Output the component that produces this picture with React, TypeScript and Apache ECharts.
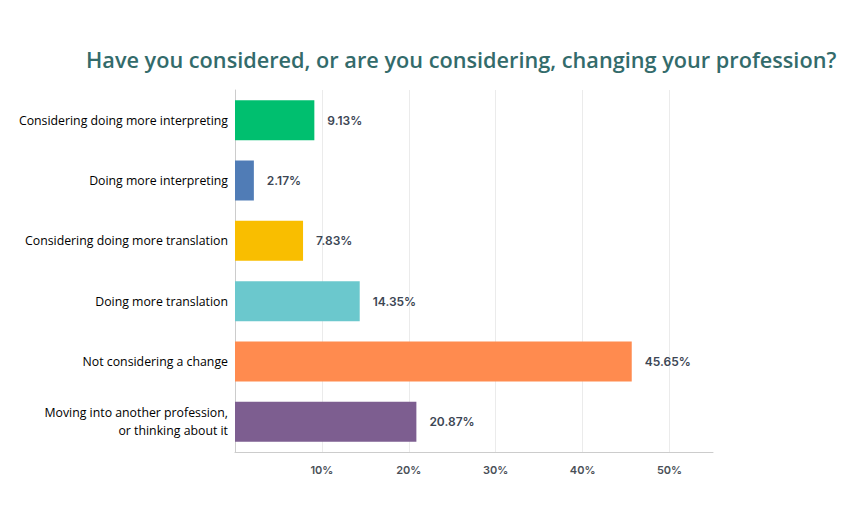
import React, { useEffect, useRef } from "react";
import * as echarts from "echarts";

const categories = [
  "Considering doing more interpreting",
  "Doing more interpreting",
  "Considering doing more translation",
  "Doing more translation",
  "Not considering a change",
  "Moving into another profession,\nor thinking about it",
];
const values = [9.13, 2.17, 7.83, 14.35, 45.65, 20.87];
const barColors = ["#00BF6F", "#507CB6", "#F9BE00", "#6BC8CD", "#FF8B4F", "#7D5E90"];
const titleText = "Have you considered, or are you considering, changing your profession?";

export default function App() {
  const ref = useRef<HTMLDivElement>(null);
  useEffect(() => {
    if (!ref.current) return;
    const chart = echarts.init(ref.current, undefined, { renderer: "svg" });
    chart.setOption({
      animation: false,
      backgroundColor: "#ffffff",
      title: {
        text: titleText,
        left: 81,
        top: 43,
        textStyle: {
          fontFamily: "Open Sans",
          fontSize: 21.7,
          fontWeight: 600,
          color: "#336b6b",
        },
      },
      grid: { left: 235, right: 149, top: 90, bottom: 53 },
      xAxis: {
        type: "value",
        min: 0,
        max: 55,
        interval: 10,
        axisLine: { show: true, lineStyle: { color: "#cccccc" } },
        axisTick: { show: false },
        splitLine: { show: true, showMinLine: false, showMaxLine: false, lineStyle: { color: "#ebebeb" } },
        axisLabel: {
          margin: 12,
          fontFamily: "Inter",
          fontSize: 11,
          fontWeight: 600,
          color: "#4a4f57",
          formatter: (v: number) => (v === 0 || v === 55 ? "" : v + "%"),
        },
      },
      yAxis: {
        type: "category",
        data: categories,
        inverse: true,
        axisLine: { show: true, lineStyle: { color: "#cccccc" } },
        axisTick: { show: false },
        axisLabel: {
          margin: 7,
          fontFamily: "Open Sans",
          fontSize: 12.3,
          fontWeight: 500,
          color: "#000000",
          lineHeight: 18,
          align: "right",
        },
      },
      series: [
        {
          type: "bar",
          data: values.map((v, i) => ({ value: v, itemStyle: { color: barColors[i] } })),
          barWidth: 40,
          label: {
            show: true,
            position: "right",
            distance: 13,
            fontFamily: "Inter",
            fontSize: 12,
            fontWeight: 600,
            color: "#3c4654",
            formatter: (p: any) => p.value.toFixed(2) + "%",
          },
        },
      ],
    });
    return () => chart.dispose();
  }, []);
  return (
    <div
      ref={ref}
      style={{ position: "fixed", left: 0, top: 0, width: 862, height: 505 }}
    />
  );
}
